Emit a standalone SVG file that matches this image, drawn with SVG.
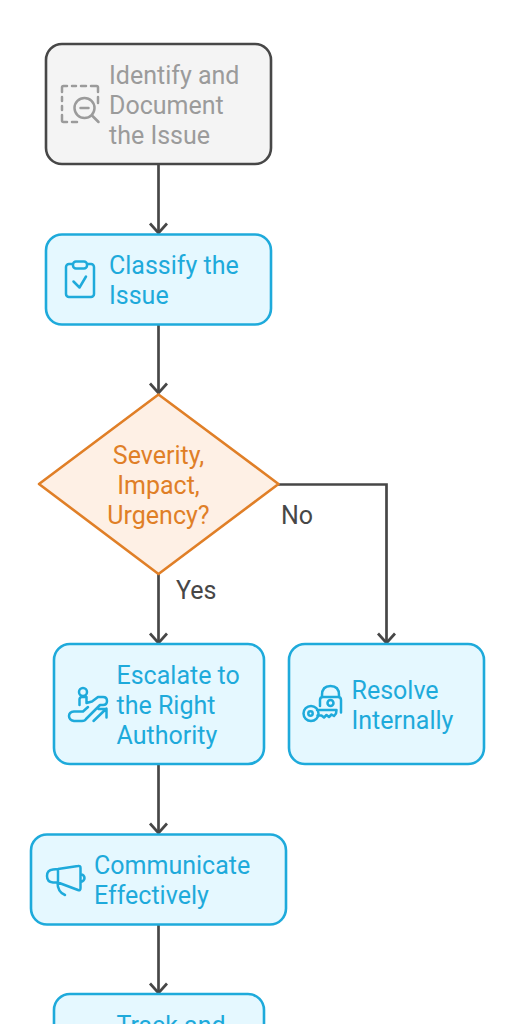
<svg xmlns="http://www.w3.org/2000/svg" width="515" height="1024" viewBox="0 0 515 1024">
<style>
text{font-family:Roboto,"Liberation Sans",sans-serif;font-size:25px}
.b rect{fill:#e5f8ff;stroke:#1eaadb;stroke-width:2.600}
.b text{fill:#1eaadb}
.b .i{fill:none;stroke:#1eaadb;stroke-width:2.500;stroke-linecap:round;stroke-linejoin:round}
.c path{fill:none;stroke:#474747;stroke-width:2.700}
</style>
<defs><marker id="a" markerUnits="userSpaceOnUse" markerWidth="24" markerHeight="24" refX="12" refY="12" orient="auto" overflow="visible"><path d="M2.5 3.5L12 12L2.5 20.500" fill="none" stroke="#474747" stroke-width="2.700"/></marker></defs>
<rect width="515" height="1024" fill="#fff"/>
<g id="connectors" class="c">
<path d="M158.500 165V233" marker-end="url(#a)"/>
<path d="M158.500 325V393" marker-end="url(#a)"/>
<path d="M158.500 574V643" marker-end="url(#a)"/>
<path d="M278 484.500H386.500V643" marker-end="url(#a)"/>
<path d="M158.500 765V833" marker-end="url(#a)"/>
<path d="M158.500 925V993" marker-end="url(#a)"/>
</g>
<text x="281" y="523.700" fill="#474747">No</text>
<text x="176" y="598.700" fill="#474747">Yes</text>
<g id="n1">
<rect x="46" y="44" width="225" height="120" rx="16" fill="#f4f4f4" stroke="#474747" stroke-width="2.600"/>
<g fill="none" stroke="#9b9b9b" stroke-width="2.500" stroke-linecap="round" stroke-linejoin="round"><path d="M62 92V87.500Q62 86 63.500 86H67M72 86H76M81 86H86M91 86H96.500Q98 86 98 87.500V92M98 97V103M62 97V101M62 106V110M62 115V120.500Q62 122 63.500 122H67M72 122H77"/><circle cx="84.500" cy="108" r="10"/><path d="M80.500 108H88.500M92 115.500L98.500 122"/></g>
<text fill="#9b9b9b"><tspan x="109" y="83.700">Identify and</tspan><tspan x="109" y="113.700">Document</tspan><tspan x="109" y="143.700">the Issue</tspan></text>
</g>
<g id="n2" class="b">
<rect x="46" y="234.500" width="225" height="90" rx="16"/>
<g class="i"><rect x="66" y="264" width="28" height="33" rx="3" style="fill:none;stroke-width:2.500"/><rect x="73" y="261.500" width="14" height="7" rx="3" style="fill:#e5f8ff;stroke-width:2.500"/><path d="M73.500 281.500L79.500 287.500L86 276.500"/></g>
<text><tspan x="109" y="273.700">Classify the</tspan><tspan x="109" y="303.700">Issue</tspan></text>
</g>
<g id="n3">
<path d="M158.500 394.500L278.500 484L158.500 574L39 484Z" fill="#fef0e5" stroke="#e07f27" stroke-width="2.600" stroke-linejoin="round"/>
<text fill="#e07f27" text-anchor="middle"><tspan x="158.500" y="463.700">Severity,</tspan><tspan x="158.500" y="493.700">Impact,</tspan><tspan x="158.500" y="523.700">Urgency?</tspan></text>
</g>
<g id="n4" class="b">
<rect x="54" y="644" width="210" height="120" rx="16"/>
<g class="i"><circle cx="83" cy="692" r="4"/><path d="M79.500 705V699Q80 697 82 697H86.500V703L92 701.500L98 697H103Q107 697 107 701Q107 705 103 705H100L86 719Q85 721 82 721H74Q69 720 69 716Q69 712 74 711.500H83L88 707M93.500 721L106.500 708.500M98.500 709H106.500V717.500"/></g>
<text><tspan x="116.500" y="683.700">Escalate to</tspan><tspan x="116.500" y="713.700">the Right</tspan><tspan x="116.500" y="743.700">Authority</tspan></text>
</g>
<g id="n5" class="b">
<rect x="289" y="644" width="195" height="120" rx="16"/>
<g class="i"><path d="M320 706V700Q320 697 323 697H338Q341 697 341 700V712.500M322 697V695Q322 686 330.500 686Q339 686 339 695V697"/><circle cx="330.500" cy="703" r="3"/><path d="M317 710H336.500L336 713.500L334 716L331.500 714.500L329 717L326.500 715L324 717.500L321.500 715.500H317.500"/><circle cx="311" cy="713.500" r="7.500"/><circle cx="310.500" cy="713.500" r="2.200"/></g>
<text><tspan x="351.500" y="698.700">Resolve</tspan><tspan x="351.500" y="728.700">Internally</tspan></text>
</g>
<g id="n6" class="b">
<rect x="31" y="834.500" width="255" height="90" rx="16"/>
<g class="i"><path d="M58 869L78 866Q80.500 865.500 80.500 868V888Q80.500 891 78 890L58 882.500H53Q47 882 47 876Q47 870 53 869.500ZM58 869.500V882.500M80.500 874Q84.500 875 84.500 878Q84.500 881 80.500 882M57.500 882.500Q57.500 892 65 895"/></g>
<text><tspan x="94" y="873.700">Communicate</tspan><tspan x="94" y="903.700">Effectively</tspan></text>
</g>
<g id="n7" class="b">
<rect x="54" y="994" width="210" height="60" rx="16"/>
<text x="116.500" y="1033.700">Track and</text>
</g>
</svg>
